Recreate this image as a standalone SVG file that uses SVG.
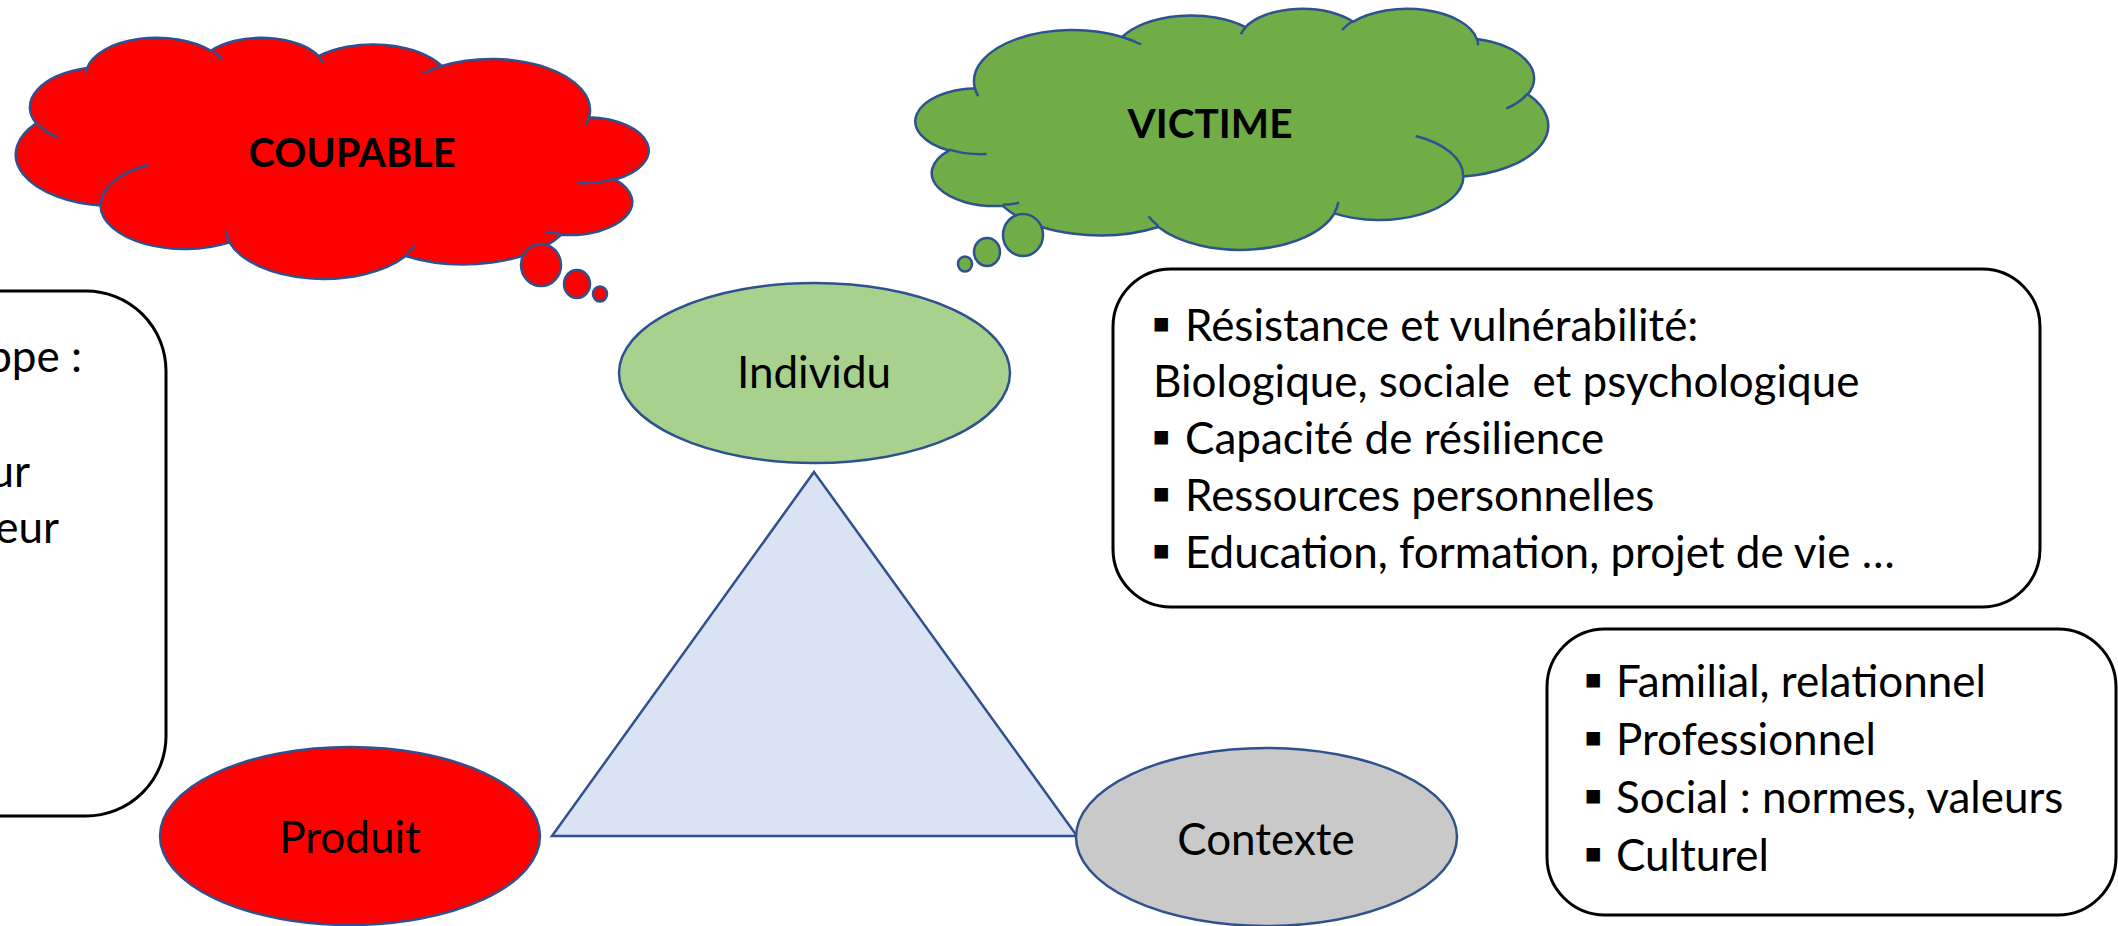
<svg xmlns="http://www.w3.org/2000/svg" xmlns:xlink="http://www.w3.org/1999/xlink" width="2118" height="926" viewBox="0 0 2118 926">
<style>
  .cloudline { stroke: #2F528F; stroke-width: 2.5; }
  .shape { stroke: #2F528F; stroke-width: 2.5; }
  .box { fill: #FFFFFF; stroke: #000000; stroke-width: 3; }
  .title { font-family: Lato, "Liberation Sans", sans-serif; font-weight: bold; font-size: 41px; fill: #000; text-anchor: middle; }
  .label { font-family: Lato, "Liberation Sans", sans-serif; font-size: 44px; fill: #000; text-anchor: middle; }
  .body { font-family: Lato, "Liberation Sans", sans-serif; font-size: 44px; fill: #000; }
  .bullet { font-family: "DejaVu Sans", sans-serif; font-size: 27px; fill: #000; }
</style>
<defs>
  <path id="cloud" vector-effect="non-scaling-stroke" d="M3900,14370 A6753,9190 0 0 1 14003,5201 A5333,7267 0 0 1 22455,3430 A4365,5945 0 0 1 29832,2480 A4857,6595 0 0 1 38317,5575 A5333,7273 0 0 1 41818,15459 A6775,9220 0 0 1 37404,30201 A5785,7867 0 0 1 28554,36810 A6752,9215 0 0 1 16480,39264 A7720,10543 0 0 1 5811,35470 A4360,5918 0 0 1 2117,25550 A4345,5945 0 0 1 3900,14370 Z"/>
  <path id="folds" vector-effect="non-scaling-stroke" fill="none" d="M4693,26177 A4345,5945 0 0 1 2159,25379 M6928,34899 A4360,5918 0 0 1 5822,35279 M16478,39090 A6752,9215 0 0 1 15809,37348 M28827,34751 A6752,9215 0 0 1 28560,36660 M34129,22954 A5785,7867 0 0 1 37378,30088 M41798,15354 A5333,7273 0 0 1 40349,18032 M38324,5426 A4857,6595 0 0 1 38400,6690 M29078,3952 A4857,6595 0 0 1 29820,2340 M22141,4720 A4365,5945 0 0 1 22500,3330 M14000,5192 A6753,9190 0 0 1 15301,6542 M4127,15789 A6753,9190 0 0 1 3900,14370"/>
</defs>
<rect width="2118" height="926" fill="#FFFFFF"/>

<g id="box-left">
  <rect class="box" x="-100" y="291" width="266" height="525" rx="80" ry="80"/>
  <text class="body" x="82" y="372" text-anchor="end">ppe :</text>
  <text class="body" x="30" y="487" text-anchor="end">ur</text>
  <text class="body" x="59" y="543" text-anchor="end">eur</text>
</g>

<g id="cloud-coupable">
  <g transform="translate(646,37) scale(-0.0145833,0.0055787)">
    <use xlink:href="#cloud" href="#cloud" class="cloudline" fill="#FF0000"/>
    <use xlink:href="#folds" href="#folds" class="cloudline"/>
  </g>
  <ellipse class="shape" fill="#FF0000" cx="541" cy="265" rx="20" ry="21"/>
  <ellipse class="shape" fill="#FF0000" cx="577" cy="284" rx="13" ry="14"/>
  <ellipse class="shape" fill="#FF0000" cx="600" cy="294" rx="7" ry="7.5"/>
  <text class="title" x="352" y="167" textLength="207" lengthAdjust="spacingAndGlyphs">COUPABLE</text>
</g>

<g id="cloud-victime">
  <g transform="translate(918,8) scale(0.0145833,0.0055787)">
    <use xlink:href="#cloud" href="#cloud" class="cloudline" fill="#70AD47"/>
    <use xlink:href="#folds" href="#folds" class="cloudline"/>
  </g>
  <ellipse class="shape" fill="#70AD47" cx="1023" cy="235" rx="20" ry="21"/>
  <ellipse class="shape" fill="#70AD47" cx="987" cy="252" rx="13" ry="14"/>
  <ellipse class="shape" fill="#70AD47" cx="965" cy="264" rx="7" ry="7.5"/>
  <text class="title" x="1210" y="138" textLength="165" lengthAdjust="spacingAndGlyphs">VICTIME</text>
</g>

<g id="triangle">
  <polygon class="shape" fill="#DAE3F3" points="814,472 1077,836 552,836"/>
</g>

<g id="individu">
  <ellipse class="shape" fill="#A9D18E" cx="814.5" cy="373" rx="195.5" ry="90"/>
  <text class="label" x="814" y="388">Individu</text>
</g>

<g id="produit">
  <ellipse class="shape" fill="#FF0000" cx="350" cy="836" rx="190" ry="89"/>
  <text class="label" x="350" y="853">Produit</text>
</g>

<g id="contexte">
  <ellipse class="shape" fill="#C9C9C9" cx="1266.5" cy="837" rx="190.5" ry="89"/>
  <text class="label" x="1266" y="855">Contexte</text>
</g>

<g id="box-individu">
  <rect class="box" x="1113" y="269" width="927" height="338" rx="58" ry="58"/>
  <text class="bullet" x="1152" y="332">▪</text>
  <text class="body" x="1185" y="341">Résistance et vulnérabilité:</text>
  <text class="body" x="1153" y="397" xml:space="preserve">Biologique, sociale  et psychologique</text>
  <text class="bullet" x="1152" y="445">▪</text>
  <text class="body" x="1185" y="454">Capacité de résilience</text>
  <text class="bullet" x="1152" y="502">▪</text>
  <text class="body" x="1185" y="511">Ressources personnelles</text>
  <text class="bullet" x="1152" y="559">▪</text>
  <text class="body" x="1185" y="568">Education, formation, projet de vie …</text>
</g>

<g id="box-contexte">
  <rect class="box" x="1547" y="629" width="569" height="286" rx="58" ry="58"/>
  <text class="bullet" x="1584" y="688">▪</text>
  <text class="body" x="1616" y="697">Familial, relationnel</text>
  <text class="bullet" x="1584" y="746">▪</text>
  <text class="body" x="1616" y="755">Professionnel</text>
  <text class="bullet" x="1584" y="804">▪</text>
  <text class="body" x="1616" y="813">Social : normes, valeurs</text>
  <text class="bullet" x="1584" y="862">▪</text>
  <text class="body" x="1616" y="871">Culturel</text>
</g>

<g id="connectors"></g>
</svg>
